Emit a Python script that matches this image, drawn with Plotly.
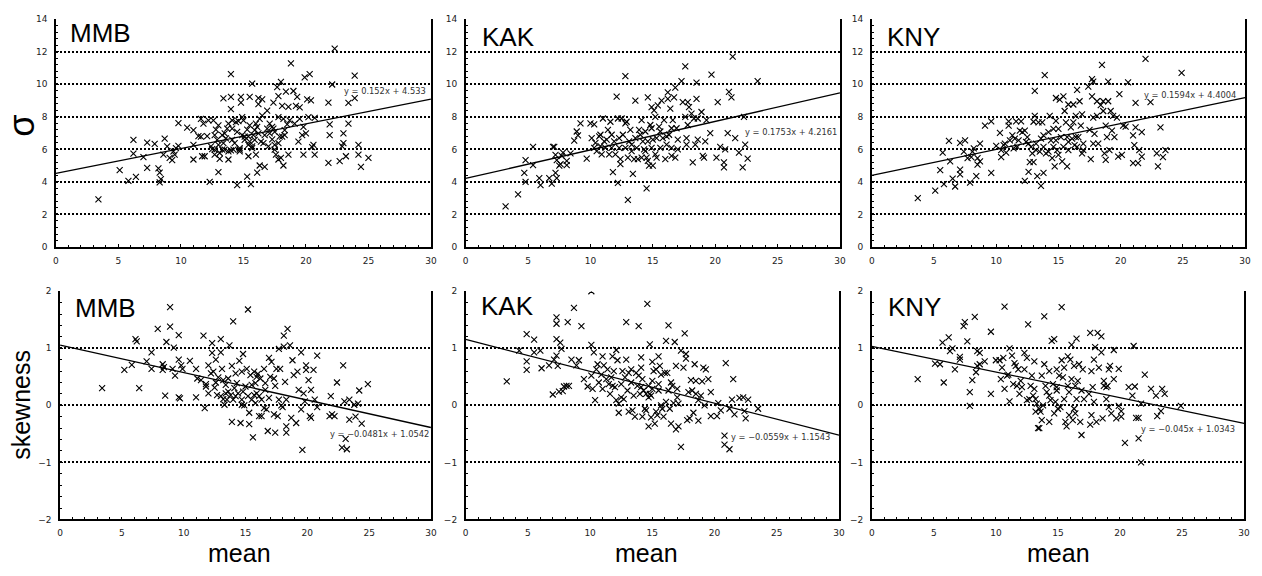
import plotly.graph_objects as go

# ---------------- data ----------------
stations = ["MMB", "KAK", "KNY"]

mmb_sigma_pts = [
    (3.4, 2.93), (5.1, 4.73), (5.8, 4.07), (6.4, 4.31), (6.2, 6.58), (6.2, 5.74), (7.0, 5.52), (7.3, 4.87),
    (7.3, 6.42), (7.9, 6.34), (8.7, 6.66), (8.2, 4.83), (8.3, 4.57), (8.3, 3.97), (8.4, 4.17), (8.6, 5.68),
    (8.9, 6.18), (9.1, 5.48), (9.3, 5.34), (9.4, 5.88), (9.5, 5.68), (9.6, 6.08), (9.8, 7.62), (9.8, 6.22),
    (10.5, 7.34), (11.0, 7.18), (11.0, 5.38), (11.0, 6.28), (11.4, 6.82), (11.6, 7.88), (11.7, 5.58),
    (11.9, 5.58), (11.8, 7.58), (12.1, 6.82), (12.2, 7.78), (12.3, 4.01), (12.4, 6.18), (12.6, 7.78),
    (12.7, 6.88), (12.7, 5.98), (12.9, 6.58), (13.0, 4.61), (13.0, 7.48), (13.0, 6.28), (13.1, 5.78),
    (13.1, 5.42), (13.3, 6.88), (13.4, 9.13), (13.4, 6.38), (13.6, 6.68), (13.7, 7.28), (13.8, 7.58),
    (13.8, 5.38), (13.8, 5.88), (14.0, 9.23), (14.0, 8.48), (14.0, 10.63), (14.1, 6.58), (14.1, 7.28),
    (14.2, 5.98), (14.4, 7.68), (14.5, 7.08), (14.5, 3.81), (14.6, 7.74), (14.7, 6.08), (14.7, 5.88),
    (14.8, 9.23), (14.8, 8.88), (14.9, 6.88), (15.0, 7.78), (15.1, 6.58), (15.3, 7.22), (15.3, 4.33),
    (15.4, 5.58), (15.4, 6.28), (15.5, 6.48), (15.5, 9.23), (15.6, 3.87), (15.7, 6.08), (15.7, 10.05),
    (15.8, 6.88), (15.9, 6.58), (15.9, 7.18), (16.0, 7.58), (16.0, 5.68), (16.1, 4.57), (16.2, 9.15),
    (16.2, 8.78), (16.3, 7.88), (16.3, 5.01), (16.5, 8.08), (16.5, 9.08), (16.6, 6.38), (16.7, 4.93),
    (16.7, 6.88), (16.9, 8.38), (17.0, 6.18), (17.1, 7.58), (17.3, 6.62), (17.4, 8.88), (17.4, 7.28),
    (17.5, 6.28), (17.6, 5.68), (17.7, 9.83), (17.8, 9.28), (17.8, 5.38), (17.8, 7.98), (17.9, 6.78),
    (18.0, 5.48), (18.0, 10.15), (18.1, 8.68), (18.2, 7.88), (18.2, 5.01), (18.3, 6.88), (18.4, 9.55),
    (18.5, 7.54), (18.6, 8.62), (18.6, 5.68), (18.7, 7.78), (18.8, 11.29), (19.0, 9.59), (19.1, 7.58),
    (19.2, 8.68), (19.3, 9.23), (19.4, 6.48), (19.5, 8.58), (19.5, 7.88), (19.7, 6.88), (19.8, 5.68),
    (19.8, 7.38), (19.9, 10.43), (20.0, 6.98), (20.1, 9.08), (20.2, 7.98), (20.3, 10.63), (20.4, 9.02),
    (20.5, 6.14), (20.6, 6.28), (20.7, 5.68), (20.7, 7.94), (21.8, 8.88), (21.8, 5.17), (21.9, 7.54),
    (21.9, 6.88), (22.1, 9.99), (22.3, 12.19), (22.7, 5.28), (22.9, 6.18), (23.0, 6.98), (23.0, 6.38),
    (23.2, 5.58), (23.4, 7.58), (23.4, 8.86), (23.9, 10.53), (23.9, 9.15), (24.2, 6.28), (24.2, 5.68),
    (24.4, 4.93), (25.0, 5.48), (12.5, 6.02), (12.7, 5.68), (12.8, 7.22), (13.3, 5.98), (13.5, 5.98),
    (13.5, 6.98), (14.0, 5.94), (14.1, 7.78), (14.3, 6.38), (14.7, 5.98), (14.9, 7.98), (15.1, 6.78),
    (15.4, 6.78), (15.5, 7.48), (15.7, 6.18), (16.1, 7.38), (16.2, 6.98), (16.4, 6.48), (16.9, 7.28),
    (17.1, 6.98), (17.3, 7.38), (17.5, 5.98), (17.5, 7.08), (17.8, 6.38), (18.1, 6.78), (18.3, 7.18),
    (11.6, 6.78),
]

kak_sigma_pts = [
    (3.2, 2.5), (4.2, 3.24), (4.8, 4.0), (4.7, 4.56), (4.8, 5.34), (5.4, 5.04), (5.4, 6.16), (5.9, 4.24),
    (6.0, 3.8), (6.7, 4.24), (6.9, 3.9), (7.0, 6.16), (7.1, 6.16), (7.2, 4.56), (7.3, 4.24), (7.2, 5.66),
    (7.3, 5.34), (7.5, 5.0), (7.6, 5.1), (7.7, 5.6), (7.8, 5.8), (8.1, 5.04), (8.1, 5.3), (8.4, 5.76),
    (8.7, 6.54), (8.9, 7.1), (9.0, 6.86), (9.2, 7.6), (9.7, 5.44), (10.0, 7.6), (10.1, 6.7), (10.3, 6.1),
    (10.3, 7.54), (10.4, 6.4), (10.5, 5.9), (10.7, 6.8), (10.8, 6.2), (10.9, 5.7), (11.0, 7.9), (11.1, 6.5),
    (11.2, 6.1), (11.3, 6.6), (11.4, 7.2), (11.5, 5.7), (11.6, 7.7), (11.7, 6.9), (11.7, 6.1), (11.8, 4.6),
    (11.9, 6.5), (12.0, 5.7), (12.1, 9.24), (12.2, 3.94), (12.2, 7.9), (12.3, 6.7), (12.4, 5.4), (12.4, 5.1),
    (12.5, 7.9), (12.6, 6.9), (12.8, 6.1), (12.8, 10.5), (12.9, 7.7), (13.0, 5.5), (13.0, 2.9), (13.1, 6.5),
    (13.2, 7.2), (13.3, 5.9), (13.4, 4.5), (13.5, 5.4), (13.6, 9.0), (13.6, 6.7), (13.7, 6.1), (13.8, 5.4),
    (13.9, 7.2), (14.0, 6.9), (14.1, 5.5), (14.1, 7.8), (14.2, 6.5), (14.3, 6.0), (14.4, 7.1), (14.5, 5.5),
    (14.5, 3.6), (14.6, 9.2), (14.6, 6.5), (14.7, 5.0), (14.8, 7.5), (14.9, 6.1), (14.9, 8.6), (15.0, 6.6),
    (15.0, 5.0), (15.1, 8.4), (15.2, 8.0), (15.2, 5.7), (15.3, 6.7), (15.4, 8.7), (15.5, 7.4), (15.6, 6.1),
    (15.7, 9.0), (15.8, 6.7), (15.9, 7.8), (16.0, 5.4), (16.1, 6.3), (16.2, 9.5), (16.2, 9.1), (16.3, 6.9),
    (16.4, 8.5), (16.5, 7.3), (16.5, 5.6), (16.6, 7.8), (16.7, 9.2), (16.8, 9.8), (16.8, 5.5), (16.9, 7.3),
    (17.0, 6.6), (17.0, 6.0), (17.3, 10.2), (17.4, 8.9), (17.6, 11.1), (17.6, 8.0), (17.7, 6.7), (17.8, 8.9),
    (17.8, 7.5), (17.9, 8.6), (18.1, 8.2), (18.2, 5.2), (18.3, 7.9), (18.4, 6.3), (18.5, 10.1), (18.5, 9.1),
    (18.6, 6.6), (18.6, 7.9), (18.9, 8.3), (19.0, 5.6), (19.1, 5.5), (19.2, 6.5), (19.3, 7.8), (19.6, 7.0),
    (19.7, 10.6), (20.1, 5.5), (20.2, 8.9), (20.4, 6.16), (20.7, 5.2), (20.7, 4.9), (20.8, 6.0), (21.0, 7.0),
    (21.1, 9.54), (21.3, 9.2), (21.4, 11.7), (21.6, 6.7), (21.9, 5.8), (22.2, 4.9), (22.3, 8.0), (22.4, 6.3),
    (22.6, 5.44), (23.4, 10.2), (14.9, 7.3), (15.3, 5.5), (16.1, 6.8), (16.5, 6.1), (13.3, 6.3), (14.6, 5.3),
    (12.3, 6.1), (10.8, 6.9), (12.8, 7.6), (14.4, 5.9), (17.7, 6.3), (15.6, 7.1),
]

kny_sigma_pts = [
    (3.7, 3.0), (5.1, 3.46), (5.5, 4.72), (5.7, 5.8), (5.8, 3.86), (6.2, 6.52), (6.3, 5.26), (6.5, 4.2),
    (6.7, 3.72), (7.1, 6.4), (7.1, 4.76), (7.1, 4.46), (7.4, 5.86), (7.5, 6.56), (7.7, 5.46), (7.9, 3.96),
    (8.0, 5.52), (8.1, 5.86), (8.2, 6.06), (8.4, 4.36), (8.5, 5.46), (8.5, 5.06), (8.7, 6.36), (8.7, 5.26),
    (9.1, 7.46), (9.6, 7.72), (9.6, 4.56), (10.0, 6.22), (10.3, 7.02), (10.4, 5.96), (10.4, 5.52),
    (10.6, 6.26), (10.7, 6.36), (10.8, 5.8), (11.0, 7.72), (11.0, 7.46), (11.1, 6.56), (11.3, 6.86),
    (11.4, 6.06), (11.5, 6.66), (11.6, 7.72), (11.7, 6.16), (11.8, 6.56), (11.9, 7.16), (12.0, 7.72),
    (12.1, 7.06), (12.3, 4.06), (12.3, 7.16), (12.4, 6.46), (12.5, 6.76), (12.6, 4.62), (12.7, 5.22),
    (12.8, 6.16), (12.9, 5.76), (13.0, 5.22), (13.0, 7.7), (13.1, 9.6), (13.1, 8.06), (13.2, 5.96),
    (13.3, 4.36), (13.4, 7.66), (13.5, 5.86), (13.6, 6.66), (13.6, 3.76), (13.7, 7.66), (13.8, 6.16),
    (13.8, 6.86), (13.8, 4.56), (13.9, 10.56), (14.0, 5.76), (14.2, 7.06), (14.3, 8.06), (14.4, 6.56),
    (14.5, 5.46), (14.6, 7.26), (14.6, 6.16), (14.7, 4.96), (14.8, 9.16), (14.9, 5.96), (15.0, 7.26),
    (15.0, 5.66), (15.1, 9.06), (15.2, 6.76), (15.3, 5.26), (15.4, 6.16), (15.4, 9.26), (15.5, 8.36),
    (15.6, 7.66), (15.7, 4.96), (15.7, 6.76), (15.8, 8.76), (15.8, 5.96), (16.0, 7.36), (16.1, 6.66),
    (16.2, 7.66), (16.2, 8.76), (16.3, 6.26), (16.4, 8.06), (16.5, 9.66), (16.5, 6.16), (16.6, 6.76),
    (16.7, 8.96), (16.8, 7.46), (16.9, 5.76), (16.9, 8.16), (17.0, 6.36), (17.4, 9.86), (17.5, 7.2),
    (17.6, 5.4), (17.7, 10.32), (17.7, 9.26), (17.8, 7.96), (17.8, 10.16), (17.9, 6.96), (18.1, 8.96),
    (18.1, 8.06), (18.2, 6.36), (18.4, 8.72), (18.5, 11.2), (18.6, 8.96), (18.6, 8.36), (18.7, 5.76),
    (18.8, 7.46), (18.8, 5.36), (18.9, 6.76), (19.0, 10.16), (19.0, 8.96), (19.1, 5.96), (19.2, 8.36),
    (19.3, 7.16), (19.4, 8.06), (19.5, 6.76), (19.7, 7.96), (19.8, 5.56), (19.9, 9.4), (20.1, 5.66),
    (20.2, 7.46), (20.4, 7.4), (20.6, 10.12), (21.0, 6.86), (21.0, 5.16), (21.1, 6.26), (21.2, 7.36),
    (21.2, 8.86), (21.4, 5.16), (21.5, 5.96), (21.7, 7.06), (21.7, 5.56), (22.0, 11.56), (22.4, 8.9),
    (22.9, 5.76), (23.0, 4.96), (23.2, 7.36), (23.4, 5.52), (23.6, 5.96), (24.9, 10.7), (14.2, 5.86),
    (14.8, 6.56), (15.8, 6.46), (16.4, 6.76), (13.2, 6.36), (12.6, 6.36), (14.8, 7.76), (17.0, 5.96),
    (17.8, 6.36),
]

mmb_skew_pts = [
    (3.4, 0.30), (5.2, 0.62), (5.8, 0.71), (6.1, 1.16), (6.2, 1.12), (6.4, 0.30), (7.0, 0.77), (7.4, 0.93),
    (7.4, 0.64), (7.9, 1.34), (8.3, 0.72), (8.3, 0.62), (8.4, 0.67), (8.5, 0.17), (8.6, 1.11), (8.9, 1.72),
    (8.9, 1.38), (9.1, 0.64), (9.2, 1.01), (9.3, 0.52), (9.6, 1.23), (9.6, 0.80), (9.6, 0.14), (9.7, 0.12),
    (9.8, 0.70), (9.9, 0.64), (10.5, 0.78), (11.0, 0.64), (11.0, 0.14), (11.1, 0.47), (11.4, 0.44),
    (11.6, 1.22), (11.7, -0.05), (11.8, 0.37), (11.8, 0.33), (12.0, 0.70), (12.0, 0.21), (12.2, 0.56),
    (12.3, 1.09), (12.3, 0.92), (12.4, 0.59), (12.5, 0.31), (12.6, 0.80), (12.6, 0.40), (12.7, 0.18),
    (12.8, 0.49), (13.0, 0.93), (13.0, 1.16), (13.0, 0.16), (13.1, 0.64), (13.2, 0.11), (13.2, 0.44),
    (13.3, 0.01), (13.4, 0.21), (13.4, 0.36), (13.5, 0.10), (13.6, 0.47), (13.7, 1.05), (13.8, 0.18),
    (13.9, 0.69), (13.9, -0.29), (14.0, 1.47), (14.0, 0.10), (14.1, 0.30), (14.2, 0.16), (14.3, 0.39),
    (14.4, 0.21), (14.5, 0.78), (14.6, -0.31), (14.7, 0.10), (14.7, 0.59), (14.8, 0.90), (14.8, 0.24),
    (14.9, 0.00), (15.0, 0.33), (15.1, 0.64), (15.2, 1.68), (15.3, -0.33), (15.3, -0.13), (15.4, 0.53),
    (15.5, 0.10), (15.5, 0.36), (15.6, -0.56), (15.7, 0.18), (15.7, 0.59), (15.8, 0.04), (15.9, 0.50),
    (15.9, 0.21), (16.0, 0.55), (16.1, -0.19), (16.1, 0.16), (16.2, 0.47), (16.3, -0.19), (16.3, 0.10),
    (16.5, 0.64), (16.5, -0.05), (16.6, 0.27), (16.7, -0.07), (16.8, -0.45), (16.9, 0.83), (16.9, 0.13),
    (17.0, 0.50), (17.1, 0.76), (17.3, -0.16), (17.3, 0.47), (17.4, -0.48), (17.4, 0.34), (17.5, 0.64),
    (17.6, -0.19), (17.7, 0.10), (17.7, 0.99), (17.8, 0.64), (17.9, 0.00), (18.0, -0.03), (18.1, 1.22),
    (18.1, 1.03), (18.2, 0.41), (18.3, -0.48), (18.3, -0.37), (18.3, 0.10), (18.4, 1.34), (18.6, 1.05),
    (18.7, -0.22), (18.8, 0.79), (18.9, 0.53), (19.1, -0.31), (19.2, 0.59), (19.3, 0.27), (19.5, 0.93),
    (19.5, -0.07), (19.6, -0.78), (19.7, 0.21), (19.8, 0.07), (19.9, 0.70), (19.9, 0.62), (20.1, 0.44),
    (20.2, -0.19), (20.3, -0.22), (20.3, 0.27), (20.5, 0.62), (20.6, 0.10), (20.8, -0.03), (20.8, 0.87),
    (21.8, -0.19), (21.9, 0.16), (22.0, -0.16), (22.2, -0.19), (22.4, 0.40), (22.8, -0.74), (22.9, 0.70),
    (23.0, 0.07), (23.1, -0.59), (23.2, -0.77), (23.4, 0.10), (23.4, -0.25), (23.8, 0.01), (23.9, -0.20),
    (24.1, 0.03), (24.2, 0.26), (24.4, -0.32), (24.9, 0.37), (14.2, 0.56), (15.8, 0.39), (16.6, 0.39),
    (14.7, 0.01), (13.6, 0.24), (15.2, 0.16),
]

kak_skew_pts = [
    (3.3, 0.42), (4.3, 0.96), (4.9, 1.25), (4.9, 0.77), (4.9, 0.62), (5.5, 1.15), (5.5, 0.93), (6.0, 0.96),
    (6.1, 0.65), (6.7, 0.70), (7.0, 0.19), (7.1, 0.80), (7.3, 1.54), (7.3, 1.43), (7.3, 1.16), (7.3, 0.87),
    (7.4, 0.69), (7.5, 0.24), (7.6, 1.10), (7.7, 0.99), (7.8, 0.25), (7.9, 0.33), (8.1, 0.34), (8.2, 1.46),
    (8.3, 0.34), (8.5, 0.80), (8.7, 1.71), (8.9, 0.70), (9.1, 0.79), (9.3, 1.39), (9.5, 0.46), (9.8, 0.33),
    (10.1, 1.06), (10.1, 0.52), (10.2, 0.29), (10.3, 0.93), (10.4, 0.09), (10.5, 0.63), (10.6, 0.72),
    (10.7, 0.40), (10.9, 0.54), (11.0, 0.86), (11.0, 0.29), (11.1, 0.70), (11.3, 0.46), (11.4, 0.63),
    (11.5, 0.37), (11.6, 0.20), (11.7, 0.49), (11.8, 0.86), (11.9, 0.60), (12.0, 0.32), (12.1, 0.09),
    (12.1, 0.97), (12.2, 0.79), (12.3, 0.03), (12.3, -0.13), (12.5, 0.37), (12.5, 0.14), (12.6, 0.60),
    (12.7, 0.11), (12.8, 0.49), (12.9, 0.80), (12.9, 1.46), (13.0, 0.26), (13.1, -0.11), (13.1, 0.57),
    (13.3, 0.40), (13.3, 0.63), (13.4, -0.09), (13.5, 0.17), (13.6, -0.20), (13.7, 0.57), (13.8, 0.34),
    (13.9, 1.39), (13.9, 0.52), (14.0, 0.20), (14.1, 0.66), (14.1, 0.84), (14.2, -0.20), (14.2, 0.46),
    (14.3, 0.26), (14.4, -0.06), (14.5, 0.20), (14.5, -0.09), (14.6, 1.78), (14.7, -0.37), (14.7, 0.34),
    (14.8, 0.20), (14.8, 1.07), (14.9, -0.21), (14.9, 0.17), (15.0, 0.43), (15.0, 0.76), (15.1, 0.60),
    (15.2, -0.32), (15.3, -0.11), (15.3, 0.63), (15.4, -0.17), (15.5, 0.86), (15.5, 0.26), (15.6, 0.69),
    (15.7, 0.00), (15.7, 0.54), (15.8, -0.06), (15.9, -0.20), (16.0, 0.57), (16.1, 0.06), (16.1, 1.13),
    (16.2, 0.57), (16.3, 1.40), (16.3, 0.26), (16.4, -0.06), (16.5, 0.40), (16.5, -0.32), (16.6, 0.34),
    (16.7, 0.04), (16.8, 1.11), (16.9, -0.42), (16.9, 0.69), (17.0, 0.14), (17.0, 0.29), (17.1, -0.37),
    (17.1, 0.03), (17.3, -0.73), (17.3, 0.96), (17.5, 0.66), (17.6, 1.26), (17.7, 0.90), (17.7, 0.82),
    (17.8, -0.26), (17.9, 0.23), (18.0, -0.23), (18.1, 0.44), (18.2, 0.26), (18.3, -0.13), (18.4, 0.72),
    (18.5, 0.20), (18.5, 0.43), (18.7, 0.09), (18.7, -0.27), (18.9, 0.17), (19.0, 0.42), (19.1, 0.66),
    (19.2, 0.00), (19.3, 0.63), (19.5, 0.46), (19.7, -0.19), (19.7, 0.23), (20.2, -0.19), (20.3, 0.04),
    (20.5, -0.09), (20.9, 0.74), (20.8, -0.53), (20.8, -0.69), (21.2, -0.77), (21.2, -0.06), (21.4, 0.10),
    (21.5, 0.46), (21.6, -0.16), (22.0, 0.13), (22.3, 0.14), (22.4, -0.10), (22.5, -0.23), (22.7, 0.10),
    (23.5, -0.06), (10.1, 2.0), (15.5, 0.37), (15.0, 0.29), (14.7, 0.14), (14.1, 0.32), (11.8, 0.34),
]

kny_skew_pts = [
    (3.7, 0.46), (5.1, 0.73), (5.5, 0.72), (5.7, 1.10), (5.8, 0.40), (6.2, 1.19), (6.3, 0.95), (6.5, 1.00),
    (6.7, 0.63), (7.1, 0.80), (7.1, 0.85), (7.4, 1.39), (7.5, 1.46), (7.7, 1.12), (7.9, -0.01), (7.9, 0.23),
    (8.1, 0.44), (8.3, 1.55), (8.4, 0.58), (8.5, 0.95), (8.5, 0.69), (8.7, 0.92), (8.7, 0.72), (9.1, 0.77),
    (9.6, 1.29), (9.6, 0.20), (10.0, 0.79), (10.3, 0.79), (10.4, 0.46), (10.5, 0.66), (10.6, 0.83),
    (10.7, 1.73), (10.7, 0.29), (10.9, 0.52), (11.0, 0.54), (11.1, 1.00), (11.1, 0.07), (11.3, 0.87),
    (11.4, 0.37), (11.5, 0.74), (11.6, 0.69), (11.7, 0.34), (11.8, 0.63), (11.9, 0.20), (12.0, 0.43),
    (12.1, 0.32), (12.3, 0.92), (12.3, 0.63), (12.5, 0.09), (12.5, 0.83), (12.6, 1.42), (12.7, 0.11),
    (12.8, 0.34), (12.9, 0.52), (13.0, 0.17), (13.1, 0.77), (13.1, 0.29), (13.2, -0.11), (13.3, 0.03),
    (13.4, -0.40), (13.5, -0.06), (13.5, -0.40), (13.6, -0.11), (13.7, -0.26), (13.7, 0.52), (13.8, 0.00),
    (13.9, 1.56), (13.9, 0.72), (14.0, 0.34), (14.1, 0.23), (14.3, -0.29), (14.3, 0.60), (14.4, 0.09),
    (14.5, 1.13), (14.6, 0.37), (14.7, 1.16), (14.7, -0.14), (14.8, 0.06), (14.9, 0.63), (14.9, 0.26),
    (15.0, -0.06), (15.1, 0.52), (15.2, -0.03), (15.3, 1.72), (15.3, 0.79), (15.4, 0.49), (15.5, 0.11),
    (15.5, 0.66), (15.6, -0.29), (15.7, -0.37), (15.8, 0.86), (15.8, 0.34), (15.9, -0.17), (16.0, 0.80),
    (16.1, 1.06), (16.1, 0.46), (16.2, -0.26), (16.3, -0.06), (16.3, 0.69), (16.4, -0.14), (16.5, 0.11),
    (16.5, 1.17), (16.6, 0.43), (16.7, 0.72), (16.8, -0.29), (16.9, 0.26), (16.9, -0.52), (17.0, 0.63),
    (17.1, 0.11), (17.5, 0.20), (17.6, -0.34), (17.6, 1.27), (17.7, 0.60), (17.7, -0.17), (17.8, 0.32),
    (17.9, 0.80), (17.9, 0.06), (18.0, 1.02), (18.1, -0.29), (18.2, 1.27), (18.3, 0.66), (18.5, 1.21),
    (18.5, 0.93), (18.6, -0.23), (18.7, 0.34), (18.7, 0.43), (18.9, 0.32), (18.9, 0.11), (19.0, 0.34),
    (19.1, 0.63), (19.1, -0.03), (19.2, 0.69), (19.3, -0.14), (19.5, 0.97), (19.5, 0.46), (19.7, -0.23),
    (19.9, 0.64), (19.9, -0.01), (20.1, -0.20), (20.1, -0.10), (20.4, -0.66), (20.7, 0.32), (21.0, 0.17),
    (21.1, 1.04), (21.2, 0.33), (21.3, -0.22), (21.5, -0.22), (21.5, -0.58), (21.7, 0.03), (21.7, -1.00),
    (22.0, 0.54), (22.5, 0.29), (22.9, 0.17), (23.0, -0.19), (23.3, -0.10), (23.4, 0.29), (23.6, 0.20),
    (24.9, -0.01), (14.3, 0.17), (14.9, 0.32), (15.9, 0.23), (16.4, 0.34), (13.2, 0.11),
]

# linear fits printed on the reference (slope, intercept)
sigma_fit_slope = [0.152, 0.1753, 0.1594]
sigma_fit_intercept = [4.533, 4.2161, 4.4004]
skew_fit_slope = [-0.0481, -0.0559, -0.045]
skew_fit_intercept = [1.0542, 1.1543, 1.0343]
sigma_fit_labels = ["y = 0.152x + 4.533", "y = 0.1753x + 4.2161", "y = 0.1594x + 4.4004"]
skew_fit_labels = ["y = \u22120.0481x + 1.0542", "y = \u22120.0559x + 1.1543", "y = \u22120.045x + 1.0343"]

fit_x_range = [0, 30]
x_tick_values = [0, 5, 10, 15, 20, 25, 30]
sigma_tick_values = [0, 2, 4, 6, 8, 10, 12, 14]
skew_tick_values = [-2, -1, 0, 1, 2]
skew_tick_labels = ["\u22122", "\u22121", "0", "1", "2"]

# ---------------- layout geometry (pixels) ----------------
W, H = 1262, 576
top_x_px = [(53.3, 431), (466, 843), (875, 1251)]
bot_x_px = [(57.5, 431), (466, 842), (875, 1250)]
top_y_px = (14.5, 246.3)
bot_y_px = (291.3, 523.5)

fig = go.Figure()

sigma_sets = [mmb_sigma_pts, kak_sigma_pts, kny_sigma_pts]
skew_sets = [mmb_skew_pts, kak_skew_pts, kny_skew_pts]

TXT = "#222222"
tickfont = dict(family="DejaVu Sans", size=9, color=TXT)

def add_panel(idx, pts, slope, intercept):
    xa = "x" if idx == 1 else f"x{idx}"
    ya = "y" if idx == 1 else f"y{idx}"
    xs = [p[0] for p in pts]
    ys = [p[1] for p in pts]
    fig.add_trace(go.Scatter(
        x=xs, y=ys, mode="markers", xaxis=xa, yaxis=ya, showlegend=False,
        marker=dict(symbol="x-thin", size=6, color="black",
                    line=dict(width=1.1, color="black")),
    ))
    fx = fit_x_range
    fy = [slope * v + intercept for v in fx]
    fig.add_trace(go.Scatter(
        x=fx, y=fy, mode="lines", xaxis=xa, yaxis=ya, showlegend=False,
        line=dict(color="black", width=1.3),
    ))

for i in range(3):
    add_panel(i + 1, sigma_sets[i], sigma_fit_slope[i], sigma_fit_intercept[i])
for i in range(3):
    add_panel(i + 4, skew_sets[i], skew_fit_slope[i], skew_fit_intercept[i])

layout = dict(
    width=W, height=H, margin=dict(l=0, r=0, t=0, b=0),
    paper_bgcolor="white", plot_bgcolor="white", showlegend=False,
    font=dict(family="Liberation Sans", color=TXT),
)

def xaxis_dict(dom_px, anchor):
    return dict(
        domain=[dom_px[0] / W, dom_px[1] / W], anchor=anchor, range=[0, 30],
        tickmode="array", tickvals=x_tick_values,
        showline=True, linecolor="black", linewidth=1.5, mirror=False,
        ticks="inside", ticklen=3, tickcolor="black", tickwidth=1,
        minor=dict(dtick=1, tick0=0, ticks="inside", ticklen=2.5, tickcolor="black", tickwidth=1, showgrid=False),
        showgrid=False, zeroline=False, tickfont=tickfont, ticklabelstandoff=4,
    )

def yaxis_dict(dom_px, anchor, rng, tv, tt, minor_dt):
    return dict(
        domain=[1 - dom_px[1] / H, 1 - dom_px[0] / H], anchor=anchor, range=rng,
        tickmode="array", tickvals=tv, ticktext=tt,
        showline=True, linecolor="black", linewidth=1.5, mirror=True,
        ticks="inside", ticklen=3, tickcolor="black", tickwidth=1,
        minor=dict(dtick=minor_dt, tick0=rng[0], ticks="inside", ticklen=2.5, tickcolor="black", tickwidth=1, showgrid=False),
        showgrid=True, gridcolor="black", gridwidth=2, griddash="2px,2px",
        zeroline=False, tickfont=tickfont, ticklabelstandoff=5,
    )

for i in range(3):
    n = i + 1
    xk = "xaxis" if n == 1 else f"xaxis{n}"
    yk = "yaxis" if n == 1 else f"yaxis{n}"
    layout[xk] = xaxis_dict(top_x_px[i], "y" if n == 1 else f"y{n}")
    layout[yk] = yaxis_dict(top_y_px, "x" if n == 1 else f"x{n}", [0, 14],
                            sigma_tick_values, [str(v) for v in sigma_tick_values], 0.4)
for i in range(3):
    n = i + 4
    layout[f"xaxis{n}"] = xaxis_dict(bot_x_px[i], f"y{n}")
    layout[f"yaxis{n}"] = yaxis_dict(bot_y_px, f"x{n}", [-2, 2],
                                     skew_tick_values, skew_tick_labels, 0.2)

fig.update_layout(**layout)

ann = []
# station names inside each panel (pixel positions)
top_label_pos = [(65, 28), (480, 32.5), (888, 32.2)]
bot_label_pos = [(70, 308.3), (479.3, 306.7), (889.3, 307.7)]
for i in range(3):
    for (px, py) in (top_label_pos[i], bot_label_pos[i]):
        ann.append(dict(text=stations[i], x=px / W, y=1 - py / H, xref="paper", yref="paper",
                        xanchor="left", yanchor="middle", showarrow=False,
                        font=dict(family="Liberation Sans", size=26, color="black")))

# regression equations (data coordinates)
sigma_eq_pos = [(22.9, 9.62), (22.2, 7.1), (21.7, 9.36)]
skew_eq_pos = [(21.7, -0.51), (21.2, -0.56), (21.5, -0.42)]
for i in range(3):
    n = i + 1
    ann.append(dict(text=sigma_fit_labels[i], x=sigma_eq_pos[i][0], y=sigma_eq_pos[i][1],
                    xref="x" if n == 1 else f"x{n}", yref="y" if n == 1 else f"y{n}",
                    xanchor="left", yanchor="middle", showarrow=False,
                    font=dict(family="DejaVu Sans", size=8.3, color="#333333")))
    ann.append(dict(text=skew_fit_labels[i], x=skew_eq_pos[i][0], y=skew_eq_pos[i][1],
                    xref=f"x{n + 3}", yref=f"y{n + 3}",
                    xanchor="left", yanchor="middle", showarrow=False,
                    font=dict(family="DejaVu Sans", size=8.3, color="#333333")))

# axis titles
ann.append(dict(text="\u03c3", x=19 / W, y=1 - 123 / H, xref="paper", yref="paper",
                textangle=-90, showarrow=False, xanchor="center", yanchor="middle",
                font=dict(family="Liberation Sans", size=36, color="black")))
ann.append(dict(text="skewness", x=18 / W, y=1 - 407 / H, xref="paper", yref="paper",
                textangle=-90, showarrow=False, xanchor="center", yanchor="middle",
                font=dict(family="Liberation Sans", size=25, color="black")))
for cx in [238.3, 648.3, 1063.3]:
    ann.append(dict(text="mean", x=cx / W, y=1 - 558 / H, xref="paper", yref="paper",
                    showarrow=False, xanchor="center", yanchor="middle",
                    font=dict(family="Liberation Sans", size=25, color="black")))

fig.update_layout(annotations=ann)
fig.write_html("out.html")
